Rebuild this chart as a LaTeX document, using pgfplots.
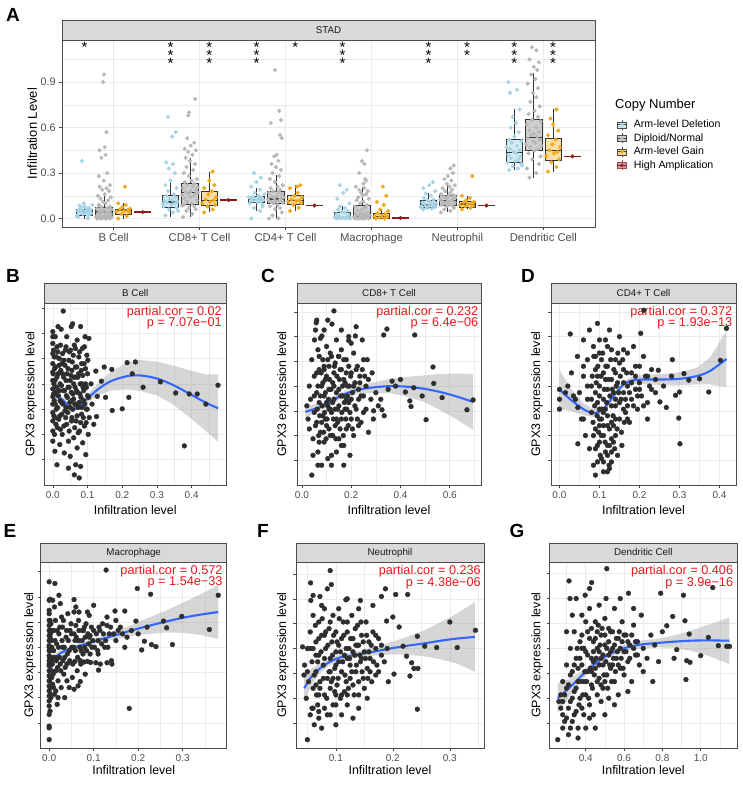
\documentclass[border=0pt]{standalone}
\usepackage{fontspec}
\setmainfont{Liberation Sans}
\usepackage{pgfplots}
\pgfplotsset{compat=1.18}
\usepackage{pgfplotstable}
\usepgfplotslibrary{statistics}

\definecolor{delpt}{HTML}{A6D4E6}
\definecolor{dippt}{HTML}{B8B8B8}
\definecolor{gainpt}{HTML}{F0A81C}
\definecolor{ampc}{HTML}{8B1A1A}
\definecolor{delbox}{HTML}{ADD8E6}
\definecolor{dipbox}{HTML}{A0A0A0}
\definecolor{gainbox}{HTML}{F5C04A}
\definecolor{gridc}{HTML}{EBEBEB}
\definecolor{stripc}{HTML}{D9D9D9}
\definecolor{corred}{HTML}{E31A1C}
\definecolor{smoothc}{HTML}{3366FF}
\definecolor{ptc}{HTML}{2E2E2E}

\pgfplotstableread[row sep=\\]{
c j y\\
1 -0.07 0.01\\ 1 0.04 0.02\\ 1 -0.02 0.03\\ 1 0.08 0.035\\ 1 -0.05 0.04\\ 1 0.01 0.045\\ 1 0.06 0.048\\ 1 -0.08 0.05\\ 1 0.03 0.052\\ 1 -0.03 0.055\\ 1 0.07 0.058\\ 1 -0.06 0.06\\ 1 0.02 0.065\\ 1 0.05 0.07\\ 1 -0.04 0.075\\ 1 0.0 0.08\\ 1 0.09 0.09\\ 1 -0.01 0.1\\ 1 0.04 0.0\\ 1 -0.09 0.015\\ 1 0.06 0.028\\ 1 -0.03 0.38\\ 1 0.02 0.042\\ 1 -0.06 0.085\\
2 -0.06 0.02\\ 2 0.03 0.04\\ 2 -0.02 0.06\\ 2 0.07 0.07\\ 2 -0.08 0.08\\ 2 0.01 0.09\\ 2 0.05 0.1\\ 2 -0.04 0.105\\ 2 0.08 0.11\\ 2 -0.07 0.115\\ 2 0.02 0.12\\ 2 -0.01 0.13\\ 2 0.06 0.14\\ 2 -0.05 0.15\\ 2 0.04 0.16\\ 2 -0.03 0.18\\ 2 0.07 0.2\\ 2 -0.06 0.22\\ 2 0.0 0.25\\ 2 0.05 0.3\\ 2 -0.02 0.33\\ 2 0.03 0.36\\ 2 -0.05 0.37\\ 2 0.02 0.54\\ 2 0.06 0.57\\ 2 -0.03 0.67\\ 2 0.09 0.05\\ 2 -0.09 0.095\\
3 -0.06 0.0\\ 3 0.04 0.05\\ 3 -0.03 0.07\\ 3 0.07 0.09\\ 3 -0.08 0.1\\ 3 0.01 0.108\\ 3 0.05 0.112\\ 3 -0.05 0.118\\ 3 0.08 0.122\\ 3 -0.01 0.126\\ 3 0.03 0.13\\ 3 -0.07 0.134\\ 3 0.06 0.138\\ 3 -0.04 0.143\\ 3 0.02 0.15\\ 3 0.09 0.16\\ 3 -0.02 0.17\\ 3 0.04 0.19\\ 3 -0.06 0.21\\ 3 0.0 0.24\\ 3 0.05 0.27\\ 3 -0.03 0.3\\ 3 0.07 0.08\\ 3 -0.09 0.14\\
4 -0.06 0.0\\ 4 0.04 0.0\\ 4 -0.02 0.0\\ 4 0.08 0.002\\ 4 -0.08 0.004\\ 4 0.01 0.006\\ 4 0.05 0.01\\ 4 -0.04 0.015\\ 4 0.07 0.02\\ 4 -0.07 0.03\\ 4 0.02 0.04\\ 4 -0.01 0.045\\ 4 0.06 0.05\\ 4 -0.05 0.06\\ 4 0.03 0.07\\ 4 -0.03 0.08\\ 4 0.08 0.1\\ 4 -0.06 0.13\\ 4 0.01 0.17\\ 4 0.05 0.19\\ 4 -0.03 0.22\\ 4 0.09 0.0\\ 4 -0.09 0.008\\
5 -0.06 0.06\\ 5 0.04 0.065\\ 5 -0.02 0.07\\ 5 0.08 0.075\\ 5 -0.08 0.08\\ 5 0.01 0.085\\ 5 0.05 0.09\\ 5 -0.04 0.093\\ 5 0.07 0.1\\ 5 -0.07 0.105\\ 5 0.02 0.11\\ 5 -0.01 0.12\\ 5 0.06 0.125\\ 5 -0.05 0.135\\ 5 0.03 0.15\\ 5 -0.03 0.165\\ 5 0.08 0.18\\ 5 -0.06 0.2\\ 5 0.01 0.22\\ 5 0.05 0.24\\ 5 -0.09 0.075\\ 5 0.09 0.095\\
6 -0.06 0.32\\ 6 0.04 0.33\\ 6 -0.02 0.345\\ 6 0.08 0.36\\ 6 -0.08 0.37\\ 6 0.01 0.38\\ 6 0.05 0.39\\ 6 -0.04 0.4\\ 6 0.07 0.41\\ 6 -0.07 0.42\\ 6 0.02 0.43\\ 6 -0.01 0.44\\ 6 0.06 0.45\\ 6 -0.05 0.46\\ 6 0.03 0.48\\ 6 -0.03 0.5\\ 6 0.08 0.51\\ 6 -0.06 0.52\\ 6 0.0 0.54\\ 6 0.05 0.57\\ 6 -0.04 0.6\\ 6 0.02 0.63\\ 6 -0.02 0.67\\ 6 0.06 0.72\\ 6 -0.05 0.83\\ 6 0.03 0.85\\ 6 -0.07 0.9\\ 6 0.09 0.35\\ 6 -0.09 0.47\\
}\deltab

\pgfplotstableread[row sep=\\]{
c j y\\
1 -0.08 0.0\\ 1 -0.03 0.0\\ 1 0.02 0.0\\ 1 0.07 0.0\\ 1 -0.06 0.002\\ 1 0.04 0.004\\ 1 -0.01 0.006\\ 1 0.09 0.008\\ 1 -0.09 0.012\\ 1 0.01 0.016\\ 1 0.05 0.02\\ 1 -0.04 0.025\\ 1 0.08 0.03\\ 1 -0.07 0.034\\ 1 0.03 0.038\\ 1 -0.02 0.042\\ 1 0.06 0.046\\ 1 -0.05 0.05\\ 1 0.0 0.055\\ 1 0.09 0.06\\ 1 -0.08 0.065\\ 1 0.04 0.07\\ 1 -0.03 0.075\\ 1 0.07 0.08\\ 1 -0.06 0.09\\ 1 0.02 0.1\\ 1 -0.01 0.11\\ 1 0.05 0.12\\ 1 -0.04 0.13\\ 1 0.08 0.14\\ 1 -0.07 0.15\\ 1 0.01 0.16\\ 1 0.06 0.18\\ 1 -0.02 0.19\\ 1 0.03 0.2\\ 1 -0.05 0.21\\ 1 0.07 0.22\\ 1 0.0 0.25\\ 1 -0.06 0.28\\ 1 0.04 0.3\\ 1 -0.03 0.4\\ 1 0.02 0.42\\ 1 -0.05 0.45\\ 1 0.01 0.47\\ 1 0.03 0.57\\ 1 -0.01 0.9\\ 1 0.0 0.95\\
2 -0.08 0.01\\ 2 0.03 0.03\\ 2 -0.04 0.05\\ 2 0.07 0.06\\ 2 -0.01 0.07\\ 2 0.05 0.08\\ 2 -0.07 0.09\\ 2 0.02 0.1\\ 2 -0.03 0.11\\ 2 0.08 0.12\\ 2 -0.06 0.13\\ 2 0.0 0.14\\ 2 0.04 0.15\\ 2 -0.09 0.155\\ 2 0.06 0.16\\ 2 -0.02 0.165\\ 2 0.09 0.17\\ 2 -0.05 0.175\\ 2 0.01 0.18\\ 2 0.07 0.19\\ 2 -0.08 0.2\\ 2 0.03 0.21\\ 2 -0.03 0.22\\ 2 0.05 0.23\\ 2 -0.06 0.24\\ 2 0.02 0.25\\ 2 0.08 0.26\\ 2 -0.01 0.28\\ 2 -0.07 0.3\\ 2 0.04 0.32\\ 2 -0.04 0.34\\ 2 0.06 0.36\\ 2 0.0 0.38\\ 2 -0.05 0.4\\ 2 0.03 0.42\\ 2 -0.02 0.44\\ 2 0.07 0.45\\ 2 -0.06 0.46\\ 2 0.01 0.48\\ 2 0.05 0.5\\ 2 -0.03 0.53\\ 2 -0.02 0.68\\ 2 -0.01 0.7\\ 2 0.06 0.79\\ 2 -0.09 0.085\\ 2 0.09 0.205\\
3 -0.08 0.0\\ 3 0.03 0.0\\ 3 -0.04 0.02\\ 3 0.07 0.04\\ 3 -0.01 0.06\\ 3 0.05 0.07\\ 3 -0.07 0.08\\ 3 0.02 0.09\\ 3 -0.03 0.1\\ 3 0.08 0.105\\ 3 -0.06 0.11\\ 3 0.0 0.115\\ 3 0.04 0.12\\ 3 -0.09 0.125\\ 3 0.06 0.13\\ 3 -0.02 0.135\\ 3 0.09 0.14\\ 3 -0.05 0.145\\ 3 0.01 0.15\\ 3 0.07 0.16\\ 3 -0.08 0.17\\ 3 0.03 0.175\\ 3 -0.03 0.18\\ 3 0.05 0.19\\ 3 -0.06 0.2\\ 3 0.02 0.21\\ 3 0.08 0.22\\ 3 -0.01 0.24\\ 3 -0.07 0.26\\ 3 0.04 0.28\\ 3 -0.04 0.3\\ 3 0.06 0.32\\ 3 0.0 0.34\\ 3 -0.05 0.36\\ 3 0.03 0.38\\ 3 -0.02 0.41\\ 3 0.01 0.42\\ 3 0.07 0.53\\ 3 0.05 0.55\\ 3 -0.06 0.63\\ 3 0.06 0.65\\ 3 0.04 0.71\\ 3 -0.01 0.98\\
4 -0.08 0.0\\ 4 -0.04 0.0\\ 4 0.0 0.0\\ 4 0.04 0.0\\ 4 0.08 0.0\\ 4 -0.06 0.002\\ 4 0.02 0.004\\ 4 -0.02 0.006\\ 4 0.06 0.008\\ 4 -0.09 0.01\\ 4 0.01 0.012\\ 4 0.05 0.015\\ 4 -0.03 0.018\\ 4 0.09 0.02\\ 4 -0.07 0.025\\ 4 0.03 0.03\\ 4 -0.01 0.035\\ 4 0.07 0.04\\ 4 -0.05 0.05\\ 4 0.0 0.06\\ 4 0.04 0.07\\ 4 -0.08 0.08\\ 4 0.06 0.09\\ 4 -0.02 0.1\\ 4 0.02 0.11\\ 4 -0.06 0.12\\ 4 0.08 0.13\\ 4 -0.04 0.14\\ 4 0.01 0.15\\ 4 0.05 0.16\\ 4 -0.01 0.17\\ 4 0.07 0.18\\ 4 -0.03 0.19\\ 4 0.03 0.2\\ 4 -0.07 0.21\\ 4 0.02 0.23\\ 4 0.05 0.25\\ 4 0.04 0.26\\ 4 -0.03 0.3\\ 4 0.03 0.36\\ 4 0.0 0.38\\ 4 0.06 0.45\\
5 -0.08 0.04\\ 5 0.03 0.05\\ 5 -0.04 0.06\\ 5 0.07 0.07\\ 5 -0.01 0.08\\ 5 0.05 0.085\\ 5 -0.07 0.09\\ 5 0.02 0.095\\ 5 -0.03 0.1\\ 5 0.08 0.105\\ 5 -0.06 0.11\\ 5 0.0 0.115\\ 5 0.04 0.12\\ 5 -0.09 0.125\\ 5 0.06 0.13\\ 5 -0.02 0.135\\ 5 0.09 0.14\\ 5 -0.05 0.145\\ 5 0.01 0.15\\ 5 0.07 0.155\\ 5 -0.08 0.16\\ 5 0.03 0.17\\ 5 -0.03 0.18\\ 5 0.05 0.19\\ 5 -0.06 0.2\\ 5 0.02 0.21\\ 5 0.08 0.22\\ 5 -0.01 0.23\\ 5 0.04 0.25\\ 5 -0.04 0.26\\ 5 0.0 0.28\\ 5 0.06 0.3\\ 5 0.03 0.33\\ 5 0.07 0.35\\
6 -0.05 0.27\\ 6 0.03 0.3\\ 6 -0.08 0.33\\ 6 0.06 0.36\\ 6 -0.02 0.39\\ 6 0.08 0.41\\ 6 -0.06 0.43\\ 6 0.01 0.45\\ 6 0.05 0.46\\ 6 -0.04 0.47\\ 6 0.09 0.48\\ 6 -0.09 0.49\\ 6 0.02 0.5\\ 6 -0.01 0.51\\ 6 0.07 0.52\\ 6 -0.07 0.53\\ 6 0.04 0.54\\ 6 -0.03 0.55\\ 6 0.0 0.56\\ 6 0.06 0.57\\ 6 -0.05 0.58\\ 6 0.03 0.6\\ 6 -0.08 0.62\\ 6 0.08 0.64\\ 6 -0.02 0.65\\ 6 0.05 0.67\\ 6 -0.06 0.69\\ 6 0.01 0.71\\ 6 0.07 0.74\\ 6 -0.04 0.77\\ 6 0.03 0.8\\ 6 -0.01 0.83\\ 6 0.05 0.86\\ 6 -0.07 0.89\\ 6 0.02 0.92\\ 6 -0.03 0.95\\ 6 0.04 0.98\\ 6 0.0 1.0\\ 6 0.06 1.03\\ 6 -0.05 1.05\\ 6 0.03 1.11\\ 6 -0.02 1.13\\
}\diptab

\pgfplotstableread[row sep=\\]{
c j y\\
1 -0.06 0.0\\ 1 0.04 0.015\\ 1 -0.02 0.03\\ 1 0.07 0.04\\ 1 -0.08 0.045\\ 1 0.01 0.05\\ 1 0.05 0.055\\ 1 -0.04 0.06\\ 1 0.08 0.065\\ 1 -0.01 0.075\\ 1 0.03 0.09\\ 1 -0.06 0.1\\ 1 0.02 0.21\\
2 -0.06 0.04\\ 2 0.04 0.06\\ 2 -0.02 0.08\\ 2 0.07 0.09\\ 2 -0.08 0.1\\ 2 0.01 0.11\\ 2 0.05 0.12\\ 2 -0.04 0.125\\ 2 0.08 0.14\\ 2 -0.01 0.16\\ 2 0.03 0.18\\ 2 -0.06 0.2\\ 2 0.06 0.22\\ 2 0.0 0.25\\ 2 0.04 0.31\\
3 -0.06 0.05\\ 3 0.04 0.07\\ 3 -0.02 0.09\\ 3 0.07 0.1\\ 3 -0.08 0.11\\ 3 0.01 0.115\\ 3 0.05 0.12\\ 3 -0.04 0.125\\ 3 0.08 0.14\\ 3 -0.01 0.15\\ 3 0.03 0.17\\ 3 -0.06 0.2\\ 3 0.06 0.22\\ 3 0.02 0.21\\
4 -0.06 0.0\\ 4 0.04 0.0\\ 4 -0.02 0.005\\ 4 0.07 0.01\\ 4 -0.08 0.015\\ 4 0.01 0.02\\ 4 0.05 0.03\\ 4 -0.04 0.035\\ 4 0.08 0.05\\ 4 -0.01 0.06\\ 4 0.03 0.09\\ 4 -0.05 0.11\\ 4 0.06 0.15\\ 4 0.02 0.21\\
5 -0.06 0.06\\ 5 0.04 0.07\\ 5 -0.02 0.08\\ 5 0.07 0.085\\ 5 -0.08 0.09\\ 5 0.01 0.095\\ 5 0.05 0.1\\ 5 -0.04 0.105\\ 5 0.08 0.11\\ 5 -0.01 0.12\\ 5 0.03 0.135\\ 5 -0.06 0.15\\ 5 0.06 0.28\\
6 -0.06 0.31\\ 6 0.04 0.34\\ 6 -0.02 0.37\\ 6 0.07 0.39\\ 6 -0.08 0.41\\ 6 0.01 0.43\\ 6 0.05 0.44\\ 6 -0.04 0.45\\ 6 0.08 0.47\\ 6 -0.01 0.49\\ 6 0.03 0.52\\ 6 -0.06 0.55\\ 6 0.06 0.58\\ 6 0.0 0.62\\ 6 -0.03 0.66\\ 6 0.04 0.72\\
}\gaintab

\pgfplotstableread[row sep=\\]{
c y\\
1 0.042\\ 2 0.122\\ 3 0.086\\ 4 0.003\\ 5 0.086\\ 6 0.41\\
}\amptab

\pgfplotsset{
  boxplot/every median/.style={line width=1.4pt},
  bxbase/.style={forget plot, line width=0.6pt, boxplot/draw direction=y, boxplot/box extend=0.19, boxplot/whisker extend=0},
  bxdel/.style={bxbase, draw=black!80, fill=delbox, fill opacity=0.5},
  bxdip/.style={bxbase, draw=black!80, fill=dipbox, fill opacity=0.5},
  bxgain/.style={bxbase, draw=black!80, fill=gainbox, fill opacity=0.5},
  bxamp/.style={bxbase, draw=ampc, fill=ampc, fill opacity=0.5},
  scat/.style={
    scale only axis, clip=true,
    axis line style={draw=black!70, line width=0.55pt},
    tick align=outside, xtick pos=bottom, ytick pos=left,
    major tick length=2.75pt, minor tick length=0pt,
    tick style={draw=black!70, line width=0.5pt},
    xmajorgrids, xminorgrids, ymajorgrids,
    major grid style={draw=gridc, line width=0.6pt},
    minor grid style={draw=gridc, line width=0.35pt},
    ymin=0,
    ytick={75,150,225,300,375,450,525}, yticklabels={},
    ticklabel style={font=\fontsize{10}{12}\selectfont, text=black!70},
    label style={font=\fontsize{12.4}{14}\selectfont},
    xlabel={Infiltration level}, ylabel={GPX3 expression level},
  },
  pts/.style={forget plot, only marks, mark=*, mark size=2.4pt, color=ptc, mark options={draw=ptc, fill=ptc}},
  smline/.style={forget plot, draw=smoothc, line width=2.1pt, smooth, no marks},
  band/.style={forget plot, fill=black!40, fill opacity=0.4, draw=none, no marks},
}
\tikzset{
  stat/.style={anchor=north east, align=right, text=corred, font=\fontsize{12.7}{11.6}\selectfont, inner sep=0pt},
  star/.style={anchor=base, inner sep=0pt, font=\fontsize{15}{15}\selectfont, text height=3pt, text depth=0pt},
}

\newcommand{\strip}[5]{%
  \draw[fill=stripc, draw=black!70, line width=0.55pt] (#1pt,#2pt) rectangle (#3pt,#4pt);
  \node[font=\fontsize{9.8}{11}\selectfont, text=black!90] at ({(#1+#3)/2*1pt},{(#2+#4)/2*1pt}) {#5};
}

\begin{document}
\begin{tikzpicture}
\path[use as bounding box] (0,0) rectangle (743pt,786pt);

% ================= Panel A =================
\begin{axis}[
  at={(62pt,559pt)}, anchor=south west, scale only axis,
  width=533pt, height=187pt,
  xmin=0.4, xmax=6.6, ymin=-0.056, ymax=1.178,
  xtick={1,2,3,4,5,6},
  xticklabels={B Cell, CD8+ T Cell, CD4+ T Cell, Macrophage, Neutrophil, Dendritic Cell},
  ytick={0,0.3,0.6,0.9}, yticklabels={0.0,0.3,0.6,0.9},
  minor ytick={0.15,0.45,0.75,1.05},
  xmajorgrids, ymajorgrids, yminorgrids,
  major grid style={draw=gridc, line width=0.6pt},
  minor grid style={draw=gridc, line width=0.35pt},
  axis line style={draw=black!70, line width=0.55pt},
  tick align=outside, xtick pos=bottom, ytick pos=left,
  major tick length=2.75pt, minor tick length=0pt,
  tick style={draw=black!70, line width=0.5pt},
  xticklabel style={font=\fontsize{11.3}{13}\selectfont, text=black!70},
  yticklabel style={font=\fontsize{10.8}{13}\selectfont, text=black!70},
  ylabel={Infiltration Level},
  ylabel style={font=\fontsize{13}{15}\selectfont, at={(axis description cs:-0.056,0.5)}, anchor=center},
  legend cell align=left,
  legend style={at={(rel axis cs:1.041,0.578)}, anchor=north west, draw=none, fill=none,
    inner sep=0pt, font=\fontsize{10.6}{12}\selectfont, row sep=2pt,
    nodes={inner sep=1pt, text height=7.5pt, text depth=2pt},
    /tikz/every odd column/.append style={column sep=6pt}},
]
% jittered points
\addplot[forget plot, only marks, mark=*, mark size=1.9pt, color=delpt, mark options={draw=delpt, fill=delpt}]
  table[x expr=\thisrow{c}-0.3375+\thisrow{j}, y=y] \deltab;
\addplot[forget plot, only marks, mark=*, mark size=1.9pt, color=dippt, mark options={draw=dippt, fill=dippt}]
  table[x expr=\thisrow{c}-0.1125+\thisrow{j}, y=y] \diptab;
\addplot[forget plot, only marks, mark=*, mark size=1.9pt, color=gainpt, mark options={draw=gainpt, fill=gainpt}]
  table[x expr=\thisrow{c}+0.1125+\thisrow{j}, y=y] \gaintab;

% B Cell
\addplot[bxdel, boxplot prepared={draw position=0.6625, lower whisker=0, lower quartile=0.022, median=0.049, upper quartile=0.06, upper whisker=0.1}] coordinates {};
\addplot[bxdip, boxplot prepared={draw position=0.8875, lower whisker=0, lower quartile=0.007, median=0.044, upper quartile=0.073, upper whisker=0.17}] coordinates {};
\addplot[bxgain, boxplot prepared={draw position=1.1125, lower whisker=0, lower quartile=0.029, median=0.051, upper quartile=0.062, upper whisker=0.1}] coordinates {};
\addplot[bxamp, boxplot prepared={draw position=1.3375, lower whisker=0.042, lower quartile=0.042, median=0.042, upper quartile=0.042, upper whisker=0.042}] coordinates {};
% CD8
\addplot[bxdel, boxplot prepared={draw position=1.6625, lower whisker=0.01, lower quartile=0.077, median=0.11, upper quartile=0.155, upper whisker=0.254}] coordinates {};
\addplot[bxdip, boxplot prepared={draw position=1.8875, lower whisker=0.01, lower quartile=0.095, median=0.17, upper quartile=0.232, upper whisker=0.4}] coordinates {};
\addplot[bxgain, boxplot prepared={draw position=2.1125, lower whisker=0.04, lower quartile=0.084, median=0.12, upper quartile=0.181, upper whisker=0.31}] coordinates {};
\addplot[bxamp, boxplot prepared={draw position=2.3375, lower whisker=0.122, lower quartile=0.122, median=0.122, upper quartile=0.122, upper whisker=0.122}] coordinates {};
% CD4
\addplot[bxdel, boxplot prepared={draw position=2.6625, lower whisker=0.05, lower quartile=0.106, median=0.126, upper quartile=0.144, upper whisker=0.2}] coordinates {};
\addplot[bxdip, boxplot prepared={draw position=2.8875, lower whisker=0, lower quartile=0.1, median=0.13, upper quartile=0.177, upper whisker=0.29}] coordinates {};
\addplot[bxgain, boxplot prepared={draw position=3.1125, lower whisker=0.05, lower quartile=0.097, median=0.12, upper quartile=0.15, upper whisker=0.22}] coordinates {};
\addplot[bxamp, boxplot prepared={draw position=3.3375, lower whisker=0.086, lower quartile=0.086, median=0.086, upper quartile=0.086, upper whisker=0.086}] coordinates {};
% Macrophage
\addplot[bxdel, boxplot prepared={draw position=3.6625, lower whisker=0, lower quartile=0, median=0.004, upper quartile=0.044, upper whisker=0.08}] coordinates {};
\addplot[bxdip, boxplot prepared={draw position=3.8875, lower whisker=0, lower quartile=0.004, median=0.015, upper quartile=0.09, upper whisker=0.21}] coordinates {};
\addplot[bxgain, boxplot prepared={draw position=4.1125, lower whisker=0, lower quartile=0.002, median=0.015, upper quartile=0.033, upper whisker=0.06}] coordinates {};
\addplot[bxamp, boxplot prepared={draw position=4.3375, lower whisker=0.003, lower quartile=0.003, median=0.003, upper quartile=0.003, upper whisker=0.003}] coordinates {};
% Neutrophil
\addplot[bxdel, boxplot prepared={draw position=4.6625, lower whisker=0.06, lower quartile=0.073, median=0.09, upper quartile=0.122, upper whisker=0.17}] coordinates {};
\addplot[bxdip, boxplot prepared={draw position=4.8875, lower whisker=0.04, lower quartile=0.09, median=0.117, upper quartile=0.153, upper whisker=0.23}] coordinates {};
\addplot[bxgain, boxplot prepared={draw position=5.1125, lower whisker=0.06, lower quartile=0.077, median=0.097, upper quartile=0.115, upper whisker=0.15}] coordinates {};
\addplot[bxamp, boxplot prepared={draw position=5.3375, lower whisker=0.086, lower quartile=0.086, median=0.086, upper quartile=0.086, upper whisker=0.086}] coordinates {};
% Dendritic
\addplot[bxdel, boxplot prepared={draw position=5.6625, lower whisker=0.32, lower quartile=0.37, median=0.436, upper quartile=0.52, upper whisker=0.72}] coordinates {};
\addplot[bxdip, boxplot prepared={draw position=5.8875, lower whisker=0.27, lower quartile=0.45, median=0.535, upper quartile=0.657, upper whisker=0.96}] coordinates {};
\addplot[bxgain, boxplot prepared={draw position=6.1125, lower whisker=0.31, lower quartile=0.383, median=0.447, upper quartile=0.527, upper whisker=0.72}] coordinates {};
\addplot[bxamp, boxplot prepared={draw position=6.3375, lower whisker=0.41, lower quartile=0.41, median=0.41, upper quartile=0.41, upper whisker=0.41}] coordinates {};

\addplot[forget plot, only marks, mark=*, mark size=1.9pt, color=ampc, mark options={draw=ampc, fill=ampc}]
  table[x expr=\thisrow{c}+0.3375, y=y] \amptab;

% significance stars (one glyph per node, stacked)
\node[star] at (axis cs:0.6625,1.098) {*};
\node[star] at (axis cs:1.6625,1.098) {*};
\node[star] at (axis cs:1.6625,1.043) {*};
\node[star] at (axis cs:1.6625,0.990) {*};
\node[star] at (axis cs:2.1125,1.098) {*};
\node[star] at (axis cs:2.1125,1.043) {*};
\node[star] at (axis cs:2.1125,0.990) {*};
\node[star] at (axis cs:2.6625,1.098) {*};
\node[star] at (axis cs:2.6625,1.043) {*};
\node[star] at (axis cs:2.6625,0.990) {*};
\node[star] at (axis cs:3.1125,1.098) {*};
\node[star] at (axis cs:3.6625,1.098) {*};
\node[star] at (axis cs:3.6625,1.043) {*};
\node[star] at (axis cs:3.6625,0.990) {*};
\node[star] at (axis cs:4.6625,1.098) {*};
\node[star] at (axis cs:4.6625,1.043) {*};
\node[star] at (axis cs:4.6625,0.990) {*};
\node[star] at (axis cs:5.1125,1.098) {*};
\node[star] at (axis cs:5.1125,1.043) {*};
\node[star] at (axis cs:5.6625,1.098) {*};
\node[star] at (axis cs:5.6625,1.043) {*};
\node[star] at (axis cs:5.6625,0.990) {*};
\node[star] at (axis cs:6.1125,1.098) {*};
\node[star] at (axis cs:6.1125,1.043) {*};
\node[star] at (axis cs:6.1125,0.990) {*};

% legend
\addlegendimage{legend image code/.code={
  \draw[black!70, line width=0.45pt] (4.5pt,-5pt) -- (4.5pt,5pt);
  \draw[black!70, fill=delbox!60, line width=0.45pt] (0pt,-3pt) rectangle (9pt,3pt);
  \draw[black!70, line width=0.8pt] (0pt,0pt) -- (9pt,0pt);
  \fill[delpt] (4.5pt,0pt) circle (1.4pt);}}
\addlegendentry{Arm-level Deletion}
\addlegendimage{legend image code/.code={
  \draw[black!70, line width=0.45pt] (4.5pt,-5pt) -- (4.5pt,5pt);
  \draw[black!70, fill=dipbox!50, line width=0.45pt] (0pt,-3pt) rectangle (9pt,3pt);
  \draw[black!70, line width=0.8pt] (0pt,0pt) -- (9pt,0pt);
  \fill[dippt] (4.5pt,0pt) circle (1.4pt);}}
\addlegendentry{Diploid/Normal}
\addlegendimage{legend image code/.code={
  \draw[black!70, line width=0.45pt] (4.5pt,-5pt) -- (4.5pt,5pt);
  \draw[black!70, fill=gainbox!70, line width=0.45pt] (0pt,-3pt) rectangle (9pt,3pt);
  \draw[black!70, line width=0.8pt] (0pt,0pt) -- (9pt,0pt);
  \fill[gainpt] (4.5pt,0pt) circle (1.4pt);}}
\addlegendentry{Arm-level Gain}
\addlegendimage{legend image code/.code={
  \draw[ampc!80, line width=0.45pt] (4.5pt,-5pt) -- (4.5pt,5pt);
  \draw[ampc!80, fill=ampc!45, line width=0.45pt] (0pt,-3pt) rectangle (9pt,3pt);
  \draw[ampc, line width=0.8pt] (0pt,0pt) -- (9pt,0pt);
  \fill[ampc] (4.5pt,0pt) circle (1.4pt);}}
\addlegendentry{High Amplication}
\end{axis}
\node[anchor=west, font=\fontsize{13}{15}\selectfont, inner sep=0pt] at (615pt,681pt) {Copy Number};
\strip{62}{746}{595}{766}{STAD}

% ================= Panel B =================
\begin{axis}[scat, at={(44.5pt,301pt)}, anchor=south west, width=181.5pt, height=182pt,
  xmin=-0.024, xmax=0.499, ymax=540,
  xtick={0,0.1,0.2,0.3,0.4}, xticklabels={0.0,0.1,0.2,0.3,0.4},
  minor xtick={0.05,0.15,0.25,0.35,0.45},
  ylabel style={at={(axis description cs:-0.074,0.5)}, anchor=center},
  xlabel style={at={(axis description cs:0.5,-0.137)}, anchor=center}]
\addplot[pts] coordinates {
(0,455) (0,420) (0,390) (0,360) (0,335) (0,310) (0,285) (0,262) (0,240) (0,215) (0,190) (0,160) (0,130) (0,440)
(0.002,400) (0.003,300) (0.004,250) (0.005,345) (0.006,200) (0.007,440) (0.008,275) (0.01,380) (0.01,225) (0.012,320)
(0.013,170) (0.015,470) (0.016,265) (0.018,355) (0.02,205) (0.021,300) (0.022,415) (0.024,462) (0.025,245) (0.027,150)
(0.028,330) (0.03,516) (0.03,280) (0.032,370) (0.033,95) (0.035,220) (0.036,400) (0.038,310) (0.04,180) (0.04,440)
(0.042,260) (0.044,345) (0.045,130) (0.047,290) (0.048,395) (0.05,230) (0.05,85) (0.052,325) (0.053,470) (0.055,200)
(0.056,365) (0.057,478) (0.058,270) (0.06,140) (0.06,300) (0.062,415) (0.063,240) (0.065,350) (0.066,60) (0.067,190)
(0.068,280) (0.07,430) (0.07,110) (0.072,320) (0.073,230) (0.075,380) (0.076,21) (0.077,160) (0.078,270) (0.08,470)
(0.08,55) (0.082,340) (0.083,210) (0.085,405) (0.086,125) (0.087,290) (0.089,250) (0.09,360) (0.091,175) (0.093,440)
(0.094,300) (0.095,90) (0.097,225) (0.098,385) (0.1,265) (0.1,330) (0.102,150) (0.104,435) (0.105,200) (0.006,100)
(0.012,60) (0.02,120) (0.045,50) (0.062,30) (0.014,395) (0.026,360) (0.038,230) (0.054,250) (0.066,320) (0.084,300)
(0.001,330) (0.002,270) (0.003,205) (0.004,380) (0.005,150) (0.006,310) (0.007,240) (0.008,350) (0.009,180) (0.011,290)
(0.012,410) (0.014,230) (0.015,330) (0.017,195) (0.018,280) (0.019,375) (0.021,250) (0.022,165) (0.023,340) (0.025,295)
(0.026,210) (0.028,390) (0.029,240) (0.031,320) (0.032,175) (0.034,280) (0.035,355) (0.037,200) (0.038,410) (0.039,265)
(0.041,330) (0.043,215) (0.044,290) (0.046,370) (0.047,160) (0.049,245) (0.05,310) (0.051,400) (0.053,275) (0.054,190)
(0.055,340) (0.057,225) (0.059,385) (0.06,255) (0.061,320) (0.063,170) (0.064,290) (0.065,405) (0.067,240) (0.069,350)
(0.07,205) (0.071,275) (0.073,155) (0.074,330) (0.076,245) (0.077,395) (0.079,300) (0.08,185) (0.081,260) (0.083,360)
(0.084,230) (0.086,325) (0.088,200) (0.089,280) (0.091,410) (0.092,240) (0.094,345) (0.096,185) (0.097,290) (0.099,225)
(0.101,370) (0.103,260)
(0.124,338) (0.148,350) (0.17,343) (0.214,363) (0.238,365) (0.229,330) (0.26,290) (0.31,306) (0.354,273) (0.393,270)
(0.416,270) (0.441,240) (0.476,296) (0.379,116) (0.219,260) (0.2,226) (0.171,221) (0.152,260) (0.128,263) (0.126,203)
(0.14,308) (0.113,240) (0.118,180) (0.11,300)};
\addplot[band] coordinates {(0,282) (0.028,262) (0.057,231) (0.09,258) (0.129,301) (0.167,336) (0.214,363) (0.252,371) (0.3,366) (0.348,354) (0.395,340) (0.443,328) (0.476,328)
 (0.476,128) (0.443,158) (0.395,200) (0.348,238) (0.3,266) (0.252,279) (0.214,283) (0.167,280) (0.129,265) (0.09,238) (0.057,215) (0.028,244) (0,254)};
\addplot[smline] coordinates {(0,268) (0.028,253) (0.057,223) (0.09,248) (0.129,283) (0.167,308) (0.214,323) (0.252,325) (0.3,316) (0.348,296) (0.395,270) (0.443,243) (0.476,228)};
\node[stat] at ([xshift=-4pt,yshift=-3pt]rel axis cs:1,1) {partial.cor = 0.02\\p = 7.07e−01};
\end{axis}
\strip{44.5}{483}{226}{503}{B Cell}

% ================= Panel C =================
\begin{axis}[scat, at={(297pt,301pt)}, anchor=south west, width=184pt, height=182pt,
  xmin=-0.02, xmax=0.727, ymax=552,
  xtick={0,0.2,0.4,0.6}, xticklabels={0.0,0.2,0.4,0.6},
  minor xtick={0.1,0.3,0.5,0.7},
  ylabel style={at={(axis description cs:-0.076,0.5)}, anchor=center},
  xlabel style={at={(axis description cs:0.5,-0.137)}, anchor=center}]
\addplot[pts] coordinates {
(0.02,240) (0.025,200) (0.03,170) (0.03,300) (0.035,260) (0.04,30) (0.04,380) (0.045,140) (0.05,220) (0.05,330)
(0.055,470) (0.06,190) (0.06,280) (0.065,100) (0.065,410) (0.07,250) (0.07,350) (0.075,160) (0.075,445) (0.08,300)
(0.08,60) (0.085,210) (0.085,380) (0.09,130) (0.09,270) (0.095,320) (0.1,180) (0.1,420) (0.105,240) (0.105,80)
(0.11,360) (0.11,290) (0.115,150) (0.115,400) (0.12,220) (0.12,60) (0.125,310) (0.13,528) (0.13,260) (0.135,180)
(0.135,370) (0.14,100) (0.14,440) (0.145,230) (0.15,290) (0.15,140) (0.155,350) (0.16,200) (0.16,410) (0.165,270)
(0.17,120) (0.17,320) (0.175,230) (0.18,380) (0.18,170) (0.185,300) (0.19,250) (0.19,450) (0.195,90) (0.2,340)
(0.2,200) (0.205,280) (0.21,400) (0.21,150) (0.215,310) (0.22,230) (0.225,360) (0.23,180) (0.235,330) (0.24,270)
(0.245,440) (0.25,220) (0.26,300) (0.265,380) (0.27,160) (0.28,260) (0.285,340) (0.29,200) (0.3,280) (0.31,240)
(0.06,500) (0.09,470) (0.16,470) (0.22,480) (0.12,90) (0.17,60) (0.105,500) (0.2,430) (0.11,230) (0.13,340)
(0.15,390) (0.07,130) (0.1,250) (0.18,260) (0.23,290) (0.25,380) (0.058,492) (0.122,488) (0.051,440) (0.081,452)
(0.217,452) (0.19,438) (0.045,90) (0.065,60) (0.14,200) (0.09,350) (0.16,120) (0.125,150) (0.095,200)
(0.05,270) (0.055,180) (0.06,340) (0.062,230) (0.065,300) (0.068,150) (0.07,390) (0.072,210) (0.075,270) (0.078,340)
(0.08,190) (0.082,240) (0.085,310) (0.088,160) (0.09,360) (0.092,220) (0.095,280) (0.098,140) (0.1,330) (0.102,200)
(0.105,380) (0.108,260) (0.11,170) (0.112,320) (0.115,230) (0.118,290) (0.12,390) (0.122,150) (0.125,250) (0.128,200)
(0.13,300) (0.132,360) (0.135,230) (0.138,140) (0.14,280) (0.142,330) (0.145,190) (0.148,390) (0.15,240) (0.152,320)
(0.155,170) (0.158,270) (0.16,350) (0.162,220) (0.165,300) (0.168,150) (0.17,380) (0.172,250) (0.175,310) (0.178,200)
(0.18,340) (0.182,230) (0.185,270) (0.188,180) (0.19,360) (0.192,300) (0.195,220) (0.198,330) (0.2,260) (0.205,170)
(0.21,300) (0.215,240) (0.22,350) (0.225,200) (0.23,260) (0.235,310) (0.24,190) (0.245,350) (0.25,270) (0.255,330)
(0.26,230) (0.27,320)
(0.332,455) (0.345,473) (0.458,455) (0.532,358) (0.535,308) (0.488,270) (0.569,265) (0.454,295) (0.42,282) (0.438,255)
(0.443,238) (0.504,198) (0.67,228) (0.695,258) (0.366,315) (0.334,210) (0.325,228) (0.291,225) (0.35,290) (0.38,300)
(0.4,320) (0.32,260)};
\addplot[band] coordinates {(0.014,240) (0.088,250) (0.156,280) (0.223,300) (0.291,312) (0.359,322) (0.427,328) (0.494,332) (0.562,337) (0.63,338) (0.695,337)
 (0.695,167) (0.63,198) (0.562,227) (0.494,252) (0.427,268) (0.359,278) (0.291,280) (0.223,276) (0.156,260) (0.088,230) (0.014,204)};
\addplot[smline] coordinates {(0.014,222) (0.088,240) (0.156,270) (0.223,288) (0.291,296) (0.359,300) (0.427,298) (0.494,292) (0.562,282) (0.63,268) (0.695,252)};
\node[stat] at ([xshift=-2.5pt,yshift=-3pt]rel axis cs:1,1) {partial.cor = 0.232\\p = 6.4e−06};
\end{axis}
\strip{297}{483}{481}{503}{CD8+ T Cell}

% ================= Panel D =================
\begin{axis}[scat, at={(551pt,301pt)}, anchor=south west, width=185pt, height=182pt,
  xmin=-0.021, xmax=0.441, ymax=552,
  xtick={0,0.1,0.2,0.3,0.4}, xticklabels={0.0,0.1,0.2,0.3,0.4},
  minor xtick={0.05,0.15,0.25,0.35},
  ylabel style={at={(axis description cs:-0.076,0.5)}, anchor=center},
  xlabel style={at={(axis description cs:0.5,-0.137)}, anchor=center}]
\addplot[pts] coordinates {
(0.05,280) (0.055,200) (0.06,330) (0.065,150) (0.07,260) (0.07,380) (0.075,110) (0.08,300) (0.08,220) (0.085,420)
(0.085,60) (0.09,30) (0.09,170) (0.09,350) (0.095,490) (0.095,250) (0.1,130) (0.1,300) (0.1,400) (0.105,200)
(0.105,80) (0.11,340) (0.11,260) (0.11,150) (0.115,440) (0.115,100) (0.12,290) (0.12,210) (0.12,360) (0.125,170)
(0.125,50) (0.13,320) (0.13,240) (0.13,410) (0.135,130) (0.135,280) (0.14,380) (0.14,200) (0.145,90) (0.145,310)
(0.15,250) (0.15,450) (0.155,160) (0.16,350) (0.16,280) (0.165,220) (0.17,400) (0.17,300) (0.175,190) (0.18,340)
(0.18,260) (0.185,420) (0.19,290) (0.195,230) (0.2,360) (0.2,310) (0.205,270) (0.21,390) (0.215,330) (0.22,250)
(0.225,300) (0.23,350) (0.24,280) (0.03,340) (0.04,260) (0.045,390) (0.06,440) (0.075,470) (0.1,230) (0.12,120)
(0.13,70) (0.11,40) (0.095,120) (0.14,340) (0.16,230) (0.125,470) (0.15,370) (0.17,240) (0.19,360) (0.22,200)
(0.1,180) (0.115,320) (0.09,280) (0.13,190) (0.105,380) (0.085,150) (0.12,90) (0.14,260) (0.11,220) (0.095,330)
(0.08,260) (0.082,330) (0.084,190) (0.086,390) (0.088,240) (0.09,110) (0.092,310) (0.094,210) (0.096,360) (0.098,160)
(0.1,270) (0.102,90) (0.104,330) (0.106,230) (0.108,400) (0.11,180) (0.112,290) (0.114,130) (0.116,360) (0.118,250)
(0.12,180) (0.122,320) (0.124,60) (0.126,270) (0.128,380) (0.13,140) (0.132,290) (0.134,210) (0.136,350) (0.138,110)
(0.14,240) (0.142,300) (0.144,170) (0.146,400) (0.148,280) (0.15,200) (0.152,330) (0.154,260) (0.156,120) (0.158,380)
(0.16,310) (0.162,190) (0.165,260) (0.168,340) (0.17,200) (0.175,280) (0.18,310) (0.185,240) (0.19,330) (0.195,270)
(0.2,290) (0.21,240) (0.22,330) (0.23,290) (0.105,150) (0.115,230) (0.125,120) (0.135,180) (0.095,70) (0.11,70)
(0.12,40) (0.13,100) (0.1,200) (0.14,150) (0.09,390) (0.1,440) (0.12,420) (0.16,410) (0.06,360) (0.07,300)
(0,290) (0,260) (0,230) (0.027,458) (0.021,300) (0.035,270) (0.046,235) (0.046,125) (0.282,380) (0.29,272)
(0.3,282) (0.298,203) (0.301,125) (0.311,338) (0.323,318) (0.35,322) (0.373,282) (0.402,378) (0.417,475) (0.211,530)
(0.203,460) (0.247,348) (0.251,252) (0.267,235) (0.26,300) (0.28,330) (0.24,320) (0.015,280) (0.06,200)};
\addplot[band] coordinates {(0,350) (0.027,295) (0.06,248) (0.085,230) (0.11,240) (0.135,280) (0.16,315) (0.185,330) (0.218,335) (0.259,337) (0.3,342) (0.342,355) (0.375,385) (0.417,467)
 (0.417,297) (0.375,305) (0.342,305) (0.3,302) (0.259,303) (0.218,305) (0.185,306) (0.16,295) (0.135,260) (0.11,220) (0.085,206) (0.06,212) (0.027,225) (0,230)};
\addplot[smline] coordinates {(0,290) (0.027,260) (0.06,230) (0.085,218) (0.11,230) (0.135,270) (0.16,305) (0.185,318) (0.218,320) (0.259,320) (0.3,322) (0.342,330) (0.375,345) (0.417,382)};
\node[stat] at ([xshift=-3.5pt,yshift=-3pt]rel axis cs:1,1) {partial.cor = 0.372\\p = 1.93e−13};
\end{axis}
\strip{551}{483}{736}{503}{CD4+ T Cell}

% ================= Panel E =================
\begin{axis}[scat, at={(40.7pt,38pt)}, anchor=south west, width=186pt, height=186pt,
  xmin=-0.019, xmax=0.399, ymax=554,
  xtick={0,0.1,0.2,0.3}, xticklabels={0.0,0.1,0.2,0.3},
  minor xtick={0.05,0.15,0.25,0.35},
  ylabel style={at={(axis description cs:-0.058,0.5)}, anchor=center},
  xlabel style={at={(axis description cs:0.5,-0.118)}, anchor=center}]
\addplot[pts] coordinates {
(0,25) (0,60) (0,65) (0,100) (0,125) (0,140) (0,155) (0,170) (0,185) (0,200) (0,215) (0,230) (0,245) (0,260)
(0,275) (0,290) (0,305) (0,320) (0,335) (0,350) (0,365) (0,380) (0,400) (0,410) (0,440) (0,495) (0.002,110)
(0.002,180) (0.002,250) (0.002,330) (0.003,210) (0.003,290) (0.004,370) (0.004,150) (0.005,270) (0.005,230)
(0.005,320) (0.007,250) (0.008,190) (0.01,350) (0.01,290) (0.012,160) (0.014,380) (0.015,230) (0.017,310) (0.02,200)
(0.02,270) (0.022,340) (0.025,250) (0.027,180) (0.03,300) (0.03,360) (0.033,220) (0.035,270) (0.038,330) (0.04,250)
(0.042,400) (0.045,290) (0.048,255) (0.05,340) (0.052,210) (0.055,300) (0.058,258) (0.06,365) (0.063,230) (0.066,320)
(0.07,260) (0.072,290) (0.075,350) (0.078,256) (0.08,300) (0.083,370) (0.086,258) (0.09,330) (0.093,255) (0.096,300)
(0.1,350) (0.105,254) (0.11,320) (0.115,250) (0.12,370) (0.125,300) (0.13,254) (0.135,340) (0.14,260) (0.15,320)
(0.16,360) (0.175,330) (0.185,350) (0.012,420) (0.025,430) (0.035,150) (0.018,130) (0.04,200) (0.06,420) (0.09,395)
(0.11,280) (0.13,390) (0.15,380) (0.17,300) (0.2,340) (0.22,360) (0.045,180) (0.065,185) (0.028,390) (0.008,440)
(0.003,340) (0.004,260) (0.006,300) (0.008,350) (0.009,220) (0.011,270) (0.013,320) (0.016,260) (0.018,350) (0.019,240)
(0.021,300) (0.023,270) (0.024,360) (0.026,230) (0.029,320) (0.031,260) (0.032,380) (0.034,300) (0.036,240) (0.039,350)
(0.041,280) (0.043,320) (0.046,260) (0.049,370) (0.051,300) (0.053,250) (0.056,340) (0.059,290) (0.061,330) (0.064,270)
(0.067,350) (0.069,300) (0.071,250) (0.074,320) (0.076,280) (0.079,360) (0.081,330) (0.084,290) (0.087,340) (0.089,310)
(0.092,280) (0.095,360) (0.098,320) (0.102,300) (0.106,340) (0.109,290) (0.112,360) (0.118,310) (0.122,340) (0.127,320)
(0.132,300) (0.138,360) (0.145,340) (0.155,350) (0.165,340) (0,250) (0,300) (0.001,350) (0.001,200) (0.001,270)
(0.002,380) (0.003,160) (0.006,210) (0.01,180) (0.015,170) (0.02,150)
(0.013,490) (0.002,443) (0.022,455) (0.047,350) (0.056,442) (0.056,405) (0.066,380) (0.1,425) (0.067,405) (0.086,405)
(0.128,530) (0.198,475) (0.228,458) (0.148,408) (0.17,408) (0.195,378) (0.257,378) (0.298,392) (0.36,353) (0.38,455)
(0.264,358) (0.208,292) (0.214,318) (0.23,308) (0.24,302) (0.277,308) (0.18,118) (0.056,175) (0.07,198) (0.081,220)
(0.111,232) (0.141,250) (0.058,320) (0.092,335) (0.114,350) (0.13,365) (0.077,350)};
\addplot[band] coordinates {(0,243) (0.01,275) (0.025,292) (0.047,303) (0.077,316) (0.114,332) (0.152,349) (0.19,369) (0.227,390) (0.264,410) (0.301,433) (0.339,457) (0.38,485)
 (0.38,325) (0.339,337) (0.301,343) (0.264,344) (0.227,340) (0.19,335) (0.152,325) (0.114,314) (0.077,300) (0.047,287) (0.025,272) (0.01,245) (0,193)};
\addplot[smline] coordinates {(0,218) (0.01,260) (0.025,282) (0.047,295) (0.077,308) (0.114,323) (0.152,337) (0.19,352) (0.227,365) (0.264,377) (0.301,388) (0.339,397) (0.38,405)};
\node[stat] at ([xshift=-4pt,yshift=-3pt]rel axis cs:1,1) {partial.cor = 0.572\\p = 1.54e−33};
\end{axis}
\strip{40.7}{224}{226.7}{243}{Macrophage}

% ================= Panel F =================
\begin{axis}[scat, at={(296pt,38pt)}, anchor=south west, width=188pt, height=186pt,
  xmin=0.03, xmax=0.36, ymax=561,
  xtick={0.1,0.2,0.3}, xticklabels={0.1,0.2,0.3},
  minor xtick={0.05,0.15,0.25,0.35},
  ylabel style={at={(axis description cs:-0.069,0.5)}, anchor=center},
  xlabel style={at={(axis description cs:0.5,-0.118)}, anchor=center}]
\addplot[pts] coordinates {
(0.045,250) (0.048,150) (0.05,25) (0.05,300) (0.052,200) (0.055,350) (0.055,100) (0.058,260) (0.06,180) (0.06,400)
(0.062,70) (0.065,320) (0.065,230) (0.068,130) (0.07,280) (0.07,380) (0.072,200) (0.075,60) (0.075,340) (0.078,250)
(0.08,160) (0.08,420) (0.082,300) (0.085,210) (0.085,100) (0.088,360) (0.09,535) (0.09,270) (0.09,180) (0.093,320)
(0.095,130) (0.095,400) (0.098,240) (0.1,290) (0.1,350) (0.102,190) (0.105,420) (0.105,260) (0.108,150) (0.11,330)
(0.11,230) (0.113,380) (0.115,280) (0.118,200) (0.12,350) (0.12,130) (0.123,300) (0.125,250) (0.128,400) (0.13,190)
(0.13,330) (0.133,280) (0.135,230) (0.138,370) (0.14,310) (0.14,160) (0.143,260) (0.145,340) (0.148,210) (0.15,290)
(0.153,380) (0.155,240) (0.158,320) (0.16,270) (0.163,200) (0.165,350) (0.17,300) (0.172,250) (0.175,330) (0.18,280)
(0.06,460) (0.07,90) (0.085,480) (0.1,70) (0.11,100) (0.12,450) (0.14,420) (0.165,430) (0.13,90) (0.075,430)
(0.095,210) (0.105,310) (0.115,170) (0.125,210) (0.145,270) (0.155,150) (0.17,220) (0.065,280) (0.08,340) (0.09,230)
(0.1,160) (0.12,270) (0.135,310) (0.058,120) (0.07,160)
(0.06,300) (0.062,220) (0.064,370) (0.066,160) (0.068,260) (0.07,330) (0.072,180) (0.074,290) (0.076,390) (0.078,210)
(0.08,270) (0.082,350) (0.084,150) (0.086,310) (0.088,230) (0.09,380) (0.092,200) (0.094,280) (0.096,340) (0.098,170)
(0.1,250) (0.102,320) (0.104,210) (0.106,390) (0.108,290) (0.11,160) (0.112,260) (0.114,340) (0.116,220) (0.118,300)
(0.12,380) (0.122,180) (0.124,270) (0.126,330) (0.128,230) (0.13,290) (0.132,160) (0.134,360) (0.136,250) (0.138,310)
(0.14,200) (0.142,280) (0.144,380) (0.146,230) (0.148,320) (0.15,180) (0.152,270) (0.154,340) (0.156,210) (0.158,290)
(0.16,230) (0.162,310) (0.166,260) (0.17,340) (0.175,230) (0.18,310) (0.185,260) (0.19,300) (0.05,230) (0.055,300)
(0.06,120) (0.065,190) (0.07,110) (0.08,120) (0.09,100) (0.1,130) (0.12,160) (0.14,120)
(0.0556,498) (0.056,445) (0.072,457) (0.092,493) (0.1175,447) (0.143,445) (0.187,480) (0.18,457) (0.205,463) (0.226,463)
(0.2,395) (0.189,383) (0.211,365) (0.243,337) (0.3,380) (0.256,307) (0.277,303) (0.313,303) (0.345,355) (0.218,307)
(0.224,277) (0.233,257) (0.237,240) (0.244,240) (0.23,217) (0.202,223) (0.192,200) (0.243,117) (0.0415,305) (0.044,220)};
\addplot[band] coordinates {(0.0444,220) (0.057,240) (0.072,255) (0.0895,270) (0.107,282) (0.13,289) (0.165,302) (0.195,318) (0.224,335) (0.253,353) (0.282,378) (0.312,405) (0.344,440)
 (0.344,230) (0.312,255) (0.282,268) (0.253,277) (0.224,281) (0.195,282) (0.165,278) (0.13,271) (0.107,264) (0.0895,250) (0.072,225) (0.057,190) (0.0444,140)};
\addplot[smline] coordinates {(0.0444,180) (0.057,215) (0.072,240) (0.0895,260) (0.107,273) (0.13,280) (0.165,290) (0.195,300) (0.224,308) (0.253,315) (0.282,323) (0.312,330) (0.344,335)};
\node[stat] at ([xshift=-3pt,yshift=-3pt]rel axis cs:1,1) {partial.cor = 0.236\\p = 4.38e−06};
\end{axis}
\strip{296}{224}{484}{243}{Neutrophil}

% ================= Panel G =================
\begin{axis}[scat, at={(549.3pt,38pt)}, anchor=south west, width=188pt, height=186pt,
  xmin=0.21, xmax=1.191, ymax=560,
  xtick={0.4,0.6,0.8,1.0}, xticklabels={0.4,0.6,0.8,1.0},
  minor xtick={0.3,0.5,0.7,0.9,1.1},
  ylabel style={at={(axis description cs:-0.065,0.5)}, anchor=center},
  xlabel style={at={(axis description cs:0.5,-0.118)}, anchor=center}]
\addplot[pts] coordinates {
(0.27,120) (0.28,60) (0.28,200) (0.29,160) (0.3,90) (0.3,250) (0.31,40) (0.31,190) (0.32,140) (0.32,300)
(0.33,80) (0.33,230) (0.34,170) (0.34,350) (0.35,110) (0.35,270) (0.36,60) (0.36,200) (0.37,320) (0.37,150)
(0.38,250) (0.38,400) (0.39,100) (0.39,200) (0.4,290) (0.4,160) (0.41,350) (0.41,230) (0.42,130) (0.42,420)
(0.43,270) (0.43,190) (0.44,320) (0.44,100) (0.45,240) (0.45,380) (0.46,160) (0.46,300) (0.47,210) (0.47,430)
(0.48,270) (0.48,340) (0.49,180) (0.49,250) (0.5,310) (0.5,390) (0.51,220) (0.51,540) (0.52,280) (0.52,150)
(0.53,350) (0.53,240) (0.54,300) (0.55,200) (0.55,420) (0.56,270) (0.57,330) (0.57,160) (0.58,240) (0.59,380)
(0.6,290) (0.6,220) (0.61,340) (0.62,260) (0.63,310) (0.64,200) (0.65,370) (0.66,280) (0.67,320) (0.68,250)
(0.69,400) (0.7,300) (0.72,270) (0.74,340) (0.76,310) (0.78,260) (0.8,350) (0.3,350) (0.33,400) (0.36,30)
(0.4,60) (0.45,60) (0.5,100) (0.55,130) (0.35,450) (0.42,480) (0.58,450) (0.65,420) (0.62,170) (0.7,230)
(0.75,200) (0.44,260) (0.48,140) (0.52,360) (0.38,300) (0.43,230) (0.47,290) (0.5,200) (0.54,250) (0.46,350)
(0.35,180) (0.355,300) (0.36,240) (0.365,130) (0.37,270) (0.375,200) (0.38,340) (0.385,160) (0.39,300) (0.395,230)
(0.4,380) (0.405,200) (0.41,280) (0.415,150) (0.42,330) (0.425,240) (0.43,360) (0.435,180) (0.44,290) (0.445,220)
(0.45,330) (0.455,270) (0.46,200) (0.465,370) (0.47,250) (0.475,310) (0.48,190) (0.485,360) (0.49,280) (0.495,220)
(0.5,340) (0.505,260) (0.51,300) (0.515,180) (0.52,320) (0.525,250) (0.53,290) (0.535,200) (0.54,350) (0.545,270)
(0.55,310) (0.555,230) (0.56,330) (0.565,290) (0.57,250) (0.575,350) (0.58,300) (0.585,270) (0.59,320) (0.595,240)
(0.6,340) (0.61,290) (0.62,320) (0.63,270) (0.64,340) (0.65,300) (0.66,320) (0.67,280) (0.3,180) (0.31,120)
(0.32,220) (0.33,150) (0.34,250) (0.29,80) (0.32,60) (0.34,100) (0.38,120) (0.42,90) (0.27,160) (0.28,140)
(0.313,503) (0.431,498) (0.318,450) (0.397,460) (0.506,450) (0.623,466) (0.791,466) (0.91,460) (1.063,483) (0.854,396)
(0.918,383) (0.94,343) (1.04,333) (1.092,308) (1.136,306) (1.15,306) (0.861,270) (0.927,263) (0.944,258) (1.0,278)
(0.923,206) (0.823,368) (0.875,296) (0.254,25) (0.26,140) (0.28,100)};
\addplot[band] coordinates {(0.254,195) (0.318,208) (0.388,235) (0.457,267) (0.527,292) (0.597,310) (0.683,323) (0.77,329) (0.857,338) (0.944,353) (1.031,369) (1.15,393)
 (1.15,253) (1.031,279) (0.944,293) (0.857,302) (0.77,303) (0.683,299) (0.597,290) (0.527,274) (0.457,249) (0.388,211) (0.318,158) (0.254,105)};
\addplot[smline] coordinates {(0.254,150) (0.318,183) (0.388,223) (0.457,258) (0.527,283) (0.597,300) (0.683,311) (0.77,316) (0.857,320) (0.944,323) (1.031,324) (1.15,323)};
\node[stat] at ([xshift=-4pt,yshift=-3pt]rel axis cs:1,1) {partial.cor = 0.406\\p = 3.9e−16};
\end{axis}
\strip{549.3}{224}{737.3}{243}{Dendritic Cell}

% panel letters
\begin{scope}[every node/.style={font=\bfseries\fontsize{19}{21}\selectfont, inner sep=0pt}]
\node at (13pt,771pt) {A};
\node at (13pt,510pt) {B};
\node at (268pt,510pt) {C};
\node at (528pt,510pt) {D};
\node at (10pt,255pt) {E};
\node at (263pt,255pt) {F};
\node at (517pt,255pt) {G};
\end{scope}
\end{tikzpicture}
\end{document}
